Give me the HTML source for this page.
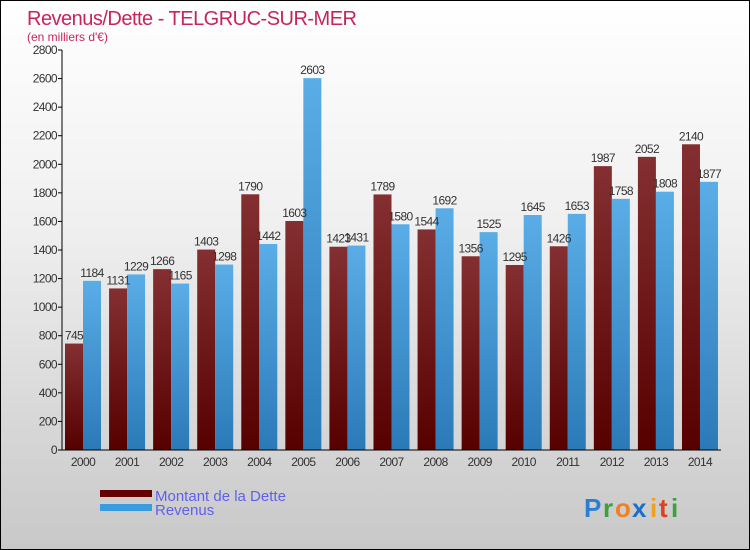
<!DOCTYPE html>
<html><head><meta charset="utf-8"><style>
body{margin:0}
#c{position:relative;width:748px;height:548px;border:1px solid #000;background:linear-gradient(#fff,#f0f0f0 40%,#c8c8c8);font-family:"Liberation Sans",sans-serif;overflow:hidden}
svg text{font-family:"Liberation Sans",sans-serif}
</style></head><body>
<div id="c">
<svg id="s" width="748" height="548">
<defs>
<linearGradient id="gd" x1="0" y1="0" x2="0" y2="1"><stop offset="0" stop-color="#842f31"/><stop offset="1" stop-color="#560000"/></linearGradient>
<linearGradient id="gr" x1="0" y1="0" x2="0" y2="1"><stop offset="0" stop-color="#5aade6"/><stop offset="1" stop-color="#2a7ab8"/></linearGradient>
</defs>
<text x="26" y="24" font-size="20" fill="#c8245c" textLength="330">Revenus/Dette - TELGRUC-SUR-MER</text>
<text x="26" y="40" font-size="12" fill="#c8245c">(en milliers d'€)</text>
<g id="g"></g>
<rect x="99" y="489" width="52" height="7" fill="#660000"/>
<rect x="99" y="503" width="52" height="7" fill="#3a9ce0"/>
<text x="154" y="500" font-size="15" fill="#6060ee">Montant de la Dette</text>
<text x="154" y="514" font-size="15" fill="#6060ee">Revenus</text>
<g font-size="26" font-weight="bold">
<text x="583" y="516" fill="#2a7fd0">P</text><text x="602" y="516" fill="#3aa040">r</text><text x="614" y="516" fill="#f08020">o</text><text x="631" y="516" fill="#1a70c8">x</text><text x="649" y="516" fill="#f0a020">i</text><text x="658" y="516" fill="#e04020">t</text><text x="670" y="516" fill="#3aa040">i</text>
</g>
</svg>
</div>
<script>
const years=["2000","2001","2002","2003","2004","2005","2006","2007","2008","2009","2010","2011","2012","2013","2014"];
const dette=[745,1131,1266,1403,1790,1603,1423,1789,1544,1356,1295,1426,1987,2052,2140];
const revenus=[1184,1229,1165,1298,1442,2603,1431,1580,1692,1525,1645,1653,1758,1808,1877];
const yTicks=[0,200,400,600,800,1000,1200,1400,1600,1800,2000,2200,2400,2600,2800];
const NS="http://www.w3.org/2000/svg";
const g=document.getElementById('g');
const X0=61,Y0=449,H=400,YMAX=2800,PITCH=44.07,BW=18;
const y=v=>Y0-v/YMAX*H;
const gx=i=>64+i*PITCH;
function el(t,a){const e=document.createElementNS(NS,t);for(const k in a)e.setAttribute(k,a[k]);g.appendChild(e);return e;}
yTicks.forEach(v=>{
 const t=el('line',{x1:X0-4,x2:X0,y1:y(v),y2:y(v),stroke:'#000'});
 
 
 const l=el('text',{x:X0-5,y:y(v)+4,'font-size':12,fill:'#333','text-anchor':'end','letter-spacing':'-0.6'});
 l.textContent=v;
 
 
});
years.forEach((yr,i)=>{
 const x=gx(i);
 const b1=el('rect',{x:x,y:y(dette[i]),width:BW,height:Y0-y(dette[i]),fill:'url(#gd)'});
 
 
 const b2=el('rect',{x:x+BW,y:y(revenus[i]),width:BW,height:Y0-y(revenus[i]),fill:'url(#gr)'});
 
 
 const l1=el('text',{x:x+BW/2,y:y(dette[i])-4,'font-size':12,fill:'#333','text-anchor':'middle','letter-spacing':'-0.6'});
 l1.textContent=dette[i];
 
 
 const l2=el('text',{x:x+BW*1.5,y:y(revenus[i])-4,'font-size':12,fill:'#333','text-anchor':'middle','letter-spacing':'-0.6'});
 l2.textContent=revenus[i];
 
 
 const xl=el('text',{x:x+BW,y:Y0+16,'font-size':12,fill:'#333','text-anchor':'middle','letter-spacing':'-0.6'});
 xl.textContent=yr;
 
 
});
const ya=el('line',{x1:X0,x2:X0,y1:y(2800),y2:Y0,stroke:'#000'});


const xa=el('line',{x1:X0,x2:720,y1:Y0,y2:Y0,stroke:'#000'});


</script>
</body></html>
